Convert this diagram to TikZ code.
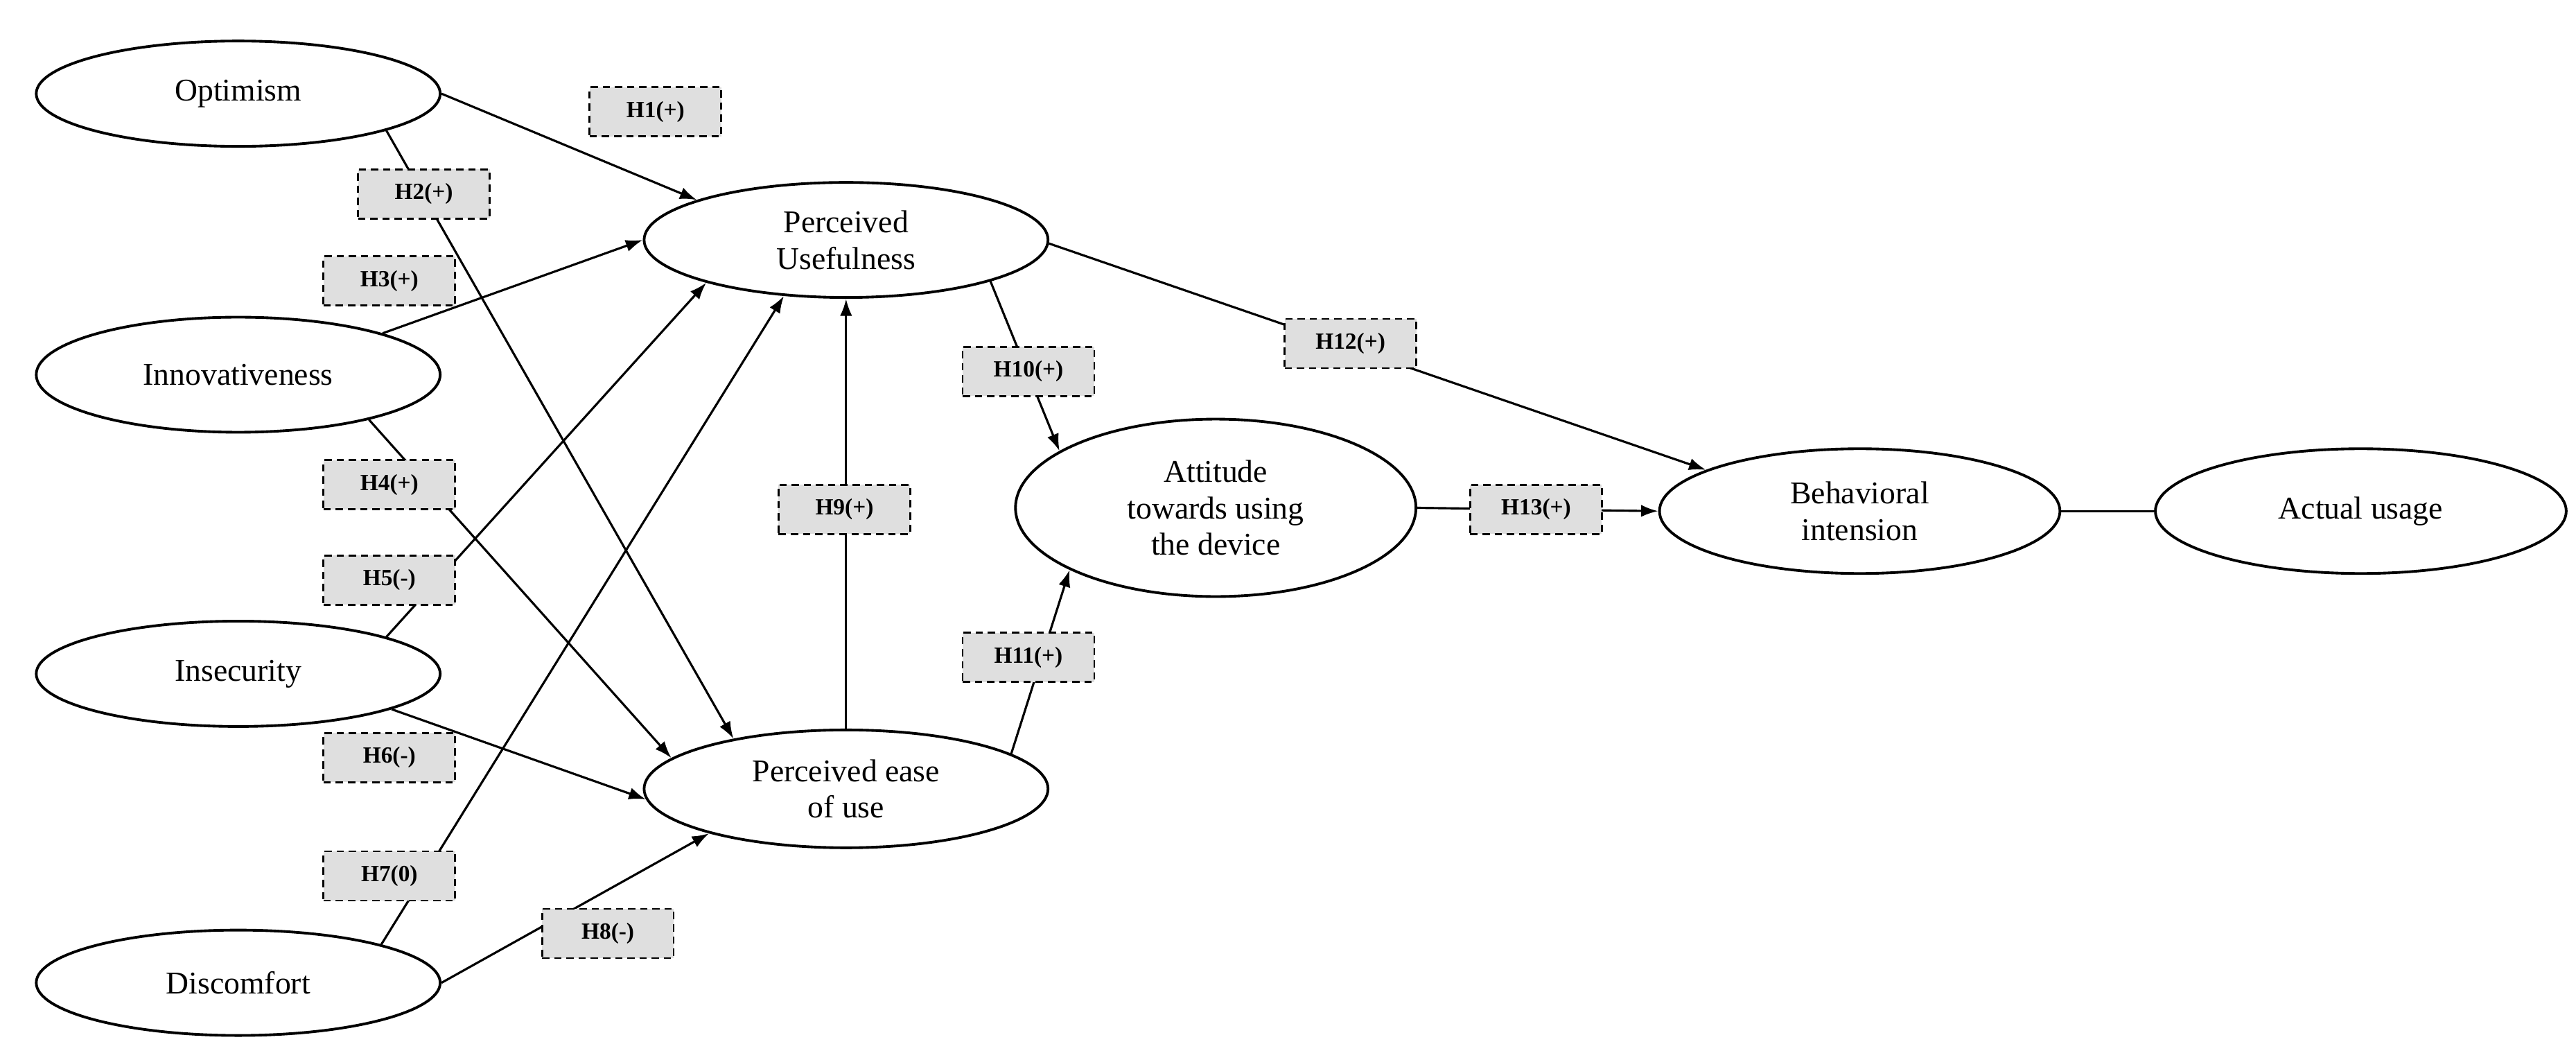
\documentclass[tikz,border=0pt]{standalone}
\usepackage{fontspec}
\setmainfont{Liberation Serif}
\usetikzlibrary{shapes.geometric,arrows.meta}
\begin{document}
\begin{tikzpicture}[x=0.023705cm,y=-0.023705cm,
  el/.style={ellipse,draw,line width=1.1pt,inner sep=0pt,minimum width=5.83cm,minimum height=1.52cm,align=center,font=\fontsize{13}{15}\selectfont},
  hb/.style={draw,densely dashed,line width=0.8pt,fill=gray!25,minimum width=1.9cm,minimum height=0.71cm,inner sep=0pt,font=\bfseries\fontsize{9.5}{11}\selectfont},
  ar/.style={line width=0.9pt,-{Latex[length=7pt,width=5pt]}},
  ln/.style={line width=0.9pt}]
\useasboundingbox (0,0) rectangle (1568,639.5);
\node[el] (opt) at (145,57) {Optimism};
\node[el,minimum height=1.66cm] (inn) at (145,228) {Innovativeness};
\node[el] (ins) at (145,410) {Insecurity};
\node[el] (dis) at (145,598) {Discomfort};
\node[el,minimum height=1.66cm] (pu) at (515,146) {Perceived\\Usefulness};
\node[el,minimum height=1.7cm] (peu) at (515,480) {Perceived ease\\of use};
\node[el,minimum width=5.78cm,minimum height=2.56cm] (att) at (740,309) {Attitude\\towards using\\the device};
\node[el,minimum width=5.78cm,minimum height=1.8cm] (bi) at (1132,311) {Behavioral\\intension};
\node[el,minimum width=5.93cm,minimum height=1.8cm] (au) at (1437,311) {Actual usage};

\draw[ar] (opt.0) -- (pu.165);
\draw[ar] (opt.-14) -- (peu.156);
\draw[ar] (inn.16) -- (pu.180);
\draw[ar] (inn.-19) -- (peu.170);
\draw[ar] (ins.14) -- (pu.197);
\draw[ar] (ins.-13) -- (peu.183);
\draw[ar] (dis.15) -- (pu.222);
\draw[ar] (dis.0) -- (peu.198);
\draw[ar] (peu.90) -- (pu.270);
\draw[ar] (pu.-16) -- (att.160);
\draw[ar] (peu.12) -- (att.203);
\draw[ar] (pu.-1) -- (bi.165);
\draw[ar] (att.0) -- (bi.180);
\draw[ln] (bi.0) -- (au.180);

\node[hb] (h1) at (399,68) {H1(+)};
\node[hb] (h2) at (258,118) {H2(+)};
\node[hb] (h3) at (237,171) {H3(+)};
\node[hb] (h4) at (237,295) {H4(+)};
\node[hb] (h5) at (237,353) {H5(-)};
\node[hb] (h6) at (237,461) {H6(-)};
\node[hb] (h7) at (237,533) {H7(0)};
\node[hb] (h8) at (370,568) {H8(-)};
\node[hb] (h9) at (514,310) {H9(+)};
\node[hb] (h10) at (626,226) {H10(+)};
\node[hb] (h11) at (626,400) {H11(+)};
\node[hb] (h12) at (822,209) {H12(+)};
\node[hb] (h13) at (935,310) {H13(+)};
\end{tikzpicture}
\end{document}
